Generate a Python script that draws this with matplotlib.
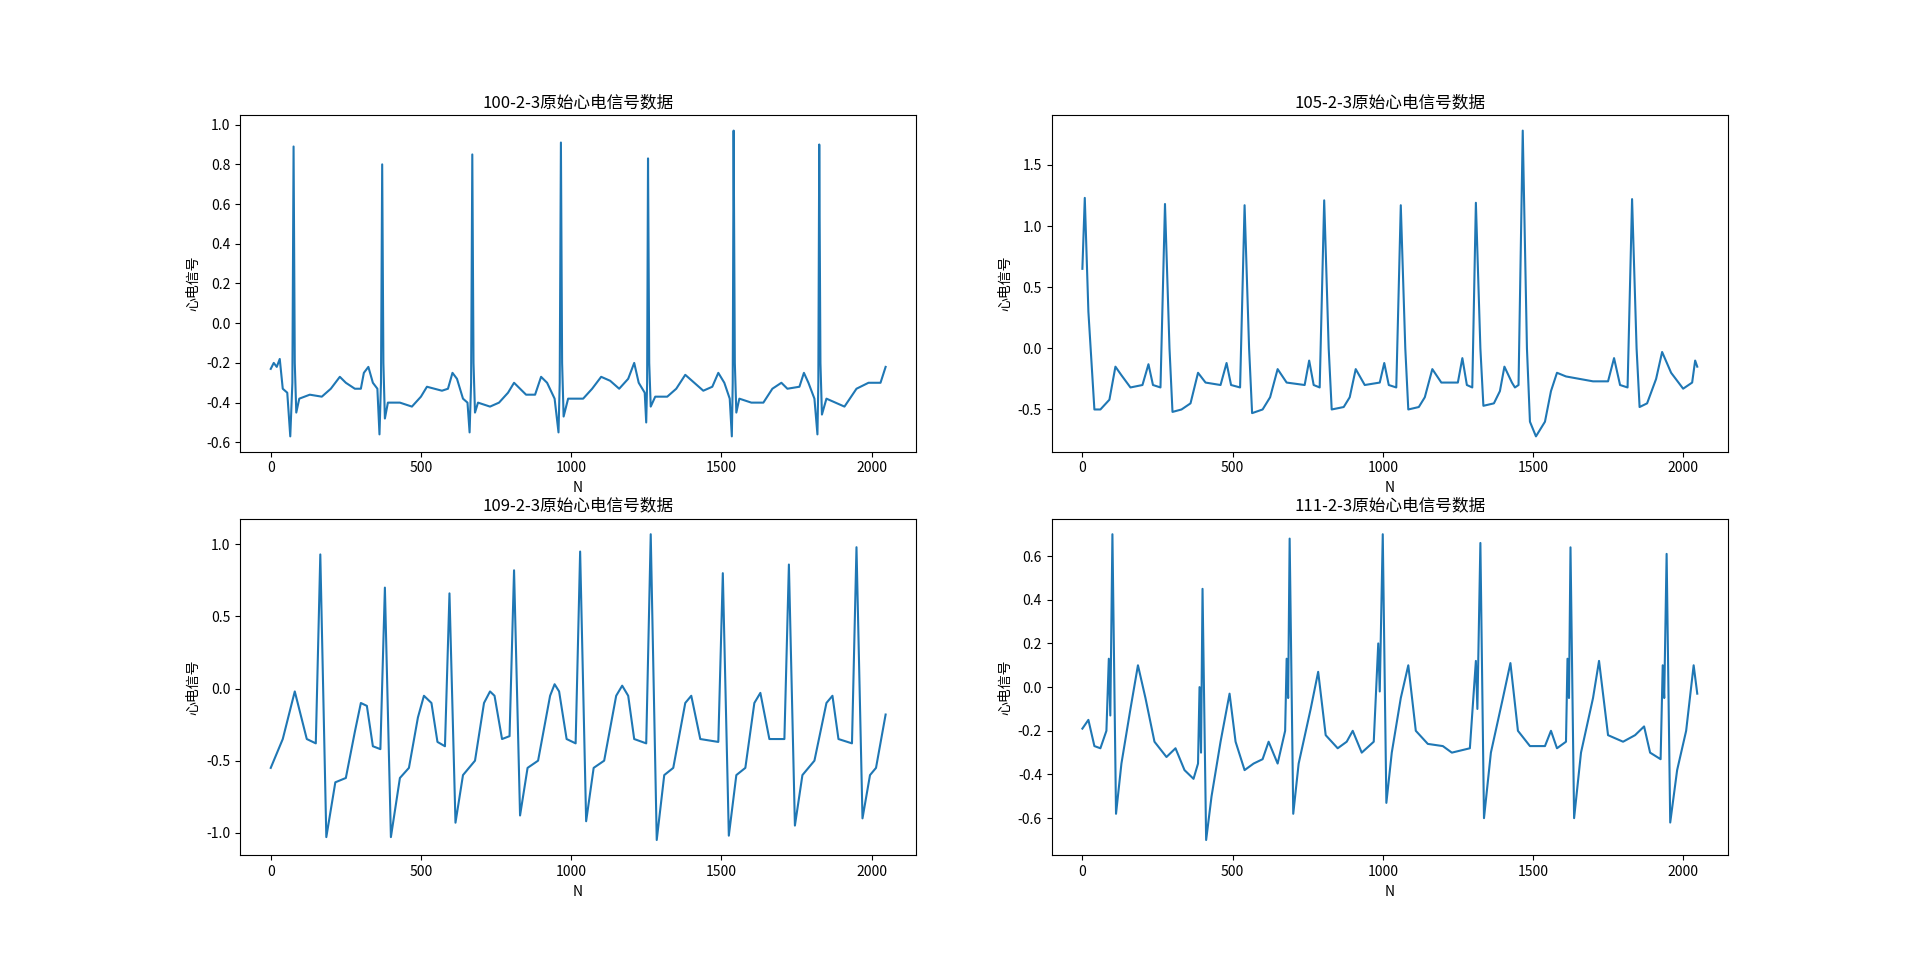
import matplotlib
matplotlib.use("Agg")
import matplotlib.pyplot as plt

plt.rcParams['font.family'] = ['Noto Sans CJK SC', 'DejaVu Sans']
plt.rcParams['axes.unicode_minus'] = False

titles = ["100-2-3原始心电信号数据", "105-2-3原始心电信号数据",
          "109-2-3原始心电信号数据", "111-2-3原始心电信号数据"]

x100 = [0,10,20,30,40,55,65,72,76,80,85,95,130,170,200,230,250,280,300,310,325,340,355,362,367,371,375,380,390,430,470,500,520,545,570,590,605,620,640,655,662,667,671,675,680,690,730,760,790,810,830,850,880,900,920,945,958,962,966,970,975,990,1040,1070,1100,1130,1160,1190,1210,1225,1245,1250,1253,1256,1260,1265,1280,1320,1350,1380,1410,1440,1470,1490,1510,1528,1535,1538,1541,1545,1550,1560,1600,1640,1670,1700,1720,1760,1775,1790,1810,1820,1823,1826,1830,1835,1850,1880,1910,1950,1990,2030,2047]
y100 = [-0.23,-0.20,-0.22,-0.18,-0.33,-0.35,-0.57,-0.3,0.89,-0.2,-0.45,-0.38,-0.36,-0.37,-0.33,-0.27,-0.30,-0.33,-0.33,-0.25,-0.22,-0.30,-0.33,-0.56,-0.3,0.80,-0.2,-0.48,-0.40,-0.40,-0.42,-0.37,-0.32,-0.33,-0.34,-0.33,-0.25,-0.28,-0.38,-0.40,-0.55,-0.3,0.85,-0.2,-0.45,-0.40,-0.42,-0.40,-0.35,-0.30,-0.33,-0.36,-0.36,-0.27,-0.30,-0.38,-0.55,-0.3,0.91,-0.2,-0.47,-0.38,-0.38,-0.33,-0.27,-0.29,-0.33,-0.28,-0.20,-0.30,-0.35,-0.5,-0.3,0.83,-0.2,-0.42,-0.37,-0.37,-0.33,-0.26,-0.30,-0.34,-0.32,-0.25,-0.30,-0.38,-0.57,-0.3,0.97,-0.2,-0.45,-0.38,-0.40,-0.40,-0.33,-0.30,-0.33,-0.32,-0.25,-0.30,-0.38,-0.56,-0.3,0.90,-0.2,-0.46,-0.38,-0.40,-0.42,-0.33,-0.30,-0.30,-0.22]

x105 = [0,8,20,40,60,90,110,130,160,200,220,235,260,275,290,300,330,360,385,410,460,480,495,525,540,555,565,600,625,650,680,740,755,770,790,805,820,830,870,890,910,940,990,1005,1020,1045,1060,1075,1085,1120,1140,1165,1195,1250,1265,1280,1298,1310,1325,1335,1370,1390,1405,1430,1440,1452,1466,1480,1490,1510,1540,1560,1580,1610,1700,1750,1770,1790,1815,1830,1845,1855,1880,1910,1930,1960,2000,2030,2040,2047]
y105 = [0.65,1.23,0.3,-0.50,-0.50,-0.42,-0.15,-0.22,-0.32,-0.30,-0.13,-0.30,-0.32,1.18,0.0,-0.52,-0.50,-0.45,-0.20,-0.28,-0.30,-0.12,-0.30,-0.32,1.17,0.0,-0.53,-0.50,-0.40,-0.17,-0.28,-0.30,-0.10,-0.30,-0.32,1.21,0.0,-0.50,-0.48,-0.40,-0.17,-0.30,-0.28,-0.12,-0.30,-0.32,1.17,0.0,-0.50,-0.48,-0.40,-0.17,-0.28,-0.28,-0.08,-0.30,-0.32,1.19,0.0,-0.47,-0.45,-0.35,-0.15,-0.28,-0.32,-0.30,1.78,0.0,-0.60,-0.72,-0.60,-0.35,-0.20,-0.23,-0.27,-0.27,-0.08,-0.30,-0.32,1.22,0.0,-0.48,-0.45,-0.25,-0.03,-0.20,-0.33,-0.28,-0.10,-0.15]

x109 = [0,40,80,120,150,165,185,215,250,280,300,320,340,365,380,400,430,460,490,510,535,555,580,595,615,640,680,710,730,745,770,795,810,830,855,890,930,945,960,985,1015,1030,1050,1075,1110,1150,1170,1190,1210,1250,1265,1285,1310,1340,1380,1400,1430,1490,1505,1525,1550,1580,1610,1630,1660,1710,1725,1745,1770,1810,1850,1870,1890,1935,1950,1970,1995,2015,2047]
y109 = [-0.55,-0.35,-0.02,-0.35,-0.38,0.93,-1.03,-0.65,-0.62,-0.3,-0.1,-0.12,-0.40,-0.42,0.70,-1.03,-0.62,-0.55,-0.2,-0.05,-0.10,-0.37,-0.40,0.66,-0.93,-0.6,-0.5,-0.1,-0.02,-0.05,-0.35,-0.33,0.82,-0.88,-0.55,-0.5,-0.05,0.03,-0.02,-0.35,-0.38,0.95,-0.92,-0.55,-0.5,-0.05,0.02,-0.05,-0.35,-0.38,1.07,-1.05,-0.6,-0.55,-0.1,-0.05,-0.35,-0.37,0.80,-1.02,-0.6,-0.55,-0.1,-0.03,-0.35,-0.35,0.86,-0.95,-0.6,-0.5,-0.1,-0.05,-0.35,-0.38,0.98,-0.90,-0.6,-0.55,-0.18]

x111 = [0,20,40,60,80,88,93,100,112,130,160,185,210,240,280,310,340,370,385,390,395,400,412,430,460,490,510,540,570,600,620,650,675,680,685,690,702,720,760,785,810,850,880,900,930,970,985,990,1000,1012,1030,1060,1085,1110,1150,1200,1230,1290,1310,1315,1325,1337,1360,1400,1425,1450,1490,1540,1560,1580,1610,1615,1620,1625,1637,1660,1700,1720,1750,1800,1840,1870,1890,1925,1932,1937,1945,1957,1980,2010,2035,2047]
y111 = [-0.19,-0.15,-0.27,-0.28,-0.2,0.13,-0.13,0.70,-0.58,-0.35,-0.1,0.10,-0.05,-0.25,-0.32,-0.28,-0.38,-0.42,-0.35,0.0,-0.3,0.45,-0.70,-0.5,-0.25,-0.03,-0.25,-0.38,-0.35,-0.33,-0.25,-0.35,-0.2,0.13,-0.05,0.68,-0.58,-0.35,-0.1,0.07,-0.22,-0.28,-0.25,-0.2,-0.3,-0.25,0.2,-0.02,0.70,-0.53,-0.3,-0.05,0.1,-0.2,-0.26,-0.27,-0.3,-0.28,0.12,-0.1,0.66,-0.6,-0.3,-0.05,0.11,-0.2,-0.27,-0.27,-0.2,-0.28,-0.25,0.13,-0.05,0.64,-0.6,-0.3,-0.05,0.12,-0.22,-0.25,-0.22,-0.18,-0.3,-0.33,0.1,-0.05,0.61,-0.62,-0.38,-0.2,0.1,-0.03]

series = [(x100, y100), (x105, y105), (x109, y109), (x111, y111)]

fig, axes = plt.subplots(2, 2, figsize=(19.2, 9.61), dpi=100)
for ax, (xs, ys), t in zip(axes.flat, series, titles):
    ax.plot(xs, ys, color='#1f77b4', linewidth=1.5)
    ax.set_title(t, fontsize=12)
    ax.set_xlabel("N")
    ax.set_ylabel("心电信号")
    ax.set_xticks([0, 500, 1000, 1500, 2000])
fig.savefig("out.png", dpi=100)
